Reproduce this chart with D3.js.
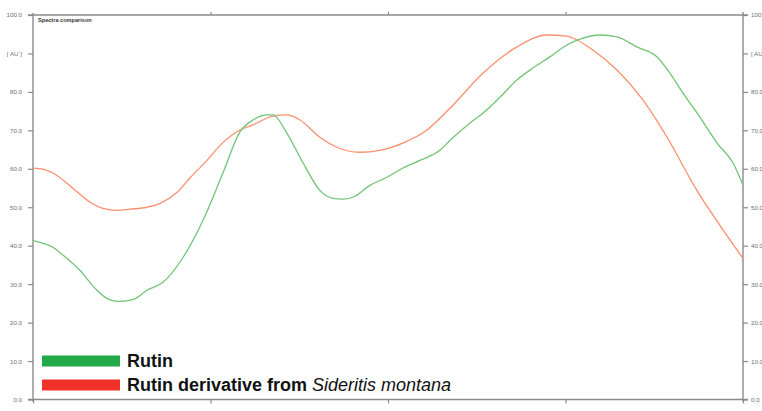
<!DOCTYPE html>
<html>
<head>
<meta charset="utf-8">
<script src="https://cdn.jsdelivr.net/npm/d3@7"></script>
<style>
  html, body { margin: 0; padding: 0; background: #fff; }
  svg { display: block; }
</style>
</head>
<body>
<svg id="chart" width="762" height="411"></svg>
<script>
// Wavelength grid (nm) and absorbance [AU] for each spectrum
const rutinWl = [200, 202.8, 205.6, 208.5, 213.2, 218.0, 220.8, 223.7, 228.2, 232.1, 236.6, 242.3, 247.9, 253.5, 258.3, 262.0, 265.9, 267.6, 271.5, 276.1, 280.8, 284.5, 287.3, 290.1, 294.9, 299.7, 304.2, 309.0, 314.6, 317.5, 323.1, 326.8, 331.5, 336.3, 340.8, 345.6, 350.4, 354.9, 359.7, 364.5, 370.1, 375.8, 379.4, 383.1, 387.9, 392.7, 397.2, 400];
const rutinAbs = [41.4, 40.6, 39.6, 37.5, 33.6, 28.4, 26.3, 25.5, 26.0, 28.4, 30.5, 37.0, 46.6, 58.9, 69.6, 72.7, 74.0, 74.0, 69.3, 61.5, 54.4, 52.3, 52.1, 52.6, 55.7, 57.8, 60.2, 62.2, 64.8, 67.4, 71.9, 74.5, 78.6, 83.1, 86.2, 89.1, 92.2, 94.0, 94.8, 94.3, 91.7, 89.1, 84.9, 79.7, 73.4, 66.7, 61.5, 55.7];

const derivWl = [200, 202.8, 205.6, 211.3, 216.1, 219.7, 223.7, 227.3, 232.1, 235.8, 240.6, 244.2, 249.0, 252.7, 258.3, 262.0, 267.6, 271.5, 275.2, 280.8, 285.6, 292.1, 297.7, 304.2, 311.0, 317.5, 326.8, 336.3, 344.8, 350.4, 353.2, 357.7, 364.5, 371.8, 378.6, 387.0, 393.5, 400];
const derivAbs = [60.2, 59.9, 58.9, 54.9, 51.3, 49.7, 49.2, 49.5, 50.0, 51.0, 53.9, 57.6, 62.2, 66.1, 70.1, 71.4, 73.7, 74.0, 72.7, 68.2, 65.6, 64.3, 64.8, 66.7, 70.1, 75.8, 84.9, 91.7, 94.8, 94.5, 93.5, 90.9, 85.7, 77.9, 68.2, 54.4, 45.3, 36.7];

// Axis ticks and labels
const yTicks = [0, 10, 20, 30, 40, 50, 60, 70, 80, 90, 100];
const yTickLabels = ["0.0", "10.0", "20.0", "30.0", "40.0", "50.0", "60.0", "70.0", "80.0", "[ AU ]", "100.0"];
const xTicks = [200, 250, 300, 350, 400];
const xTickLabels = ["200.0", "250.0", "300.0", "350.0", "400.0"];

const chartTitle = "Spectra comparison";
const seriesNames = ["Rutin", "Rutin derivative from "];
const speciesName = "Sideritis montana";

const svg = d3.select("#chart");
const plotL = 33, plotR = 743, plotT = 15, plotB = 399.5;

const x = d3.scaleLinear().domain([200, 400]).range([plotL, plotR]);
const y = d3.scaleLinear().domain([0, 100]).range([plotB, plotT]);

const axisColor = "#8a8a8a";
const labelColor = "#707070";

// Left axis
const gL = svg.append("g").attr("transform", `translate(${plotL},0)`)
  .call(d3.axisLeft(y).tickValues(yTicks).tickFormat((d, i) => yTickLabels[i]).tickSize(5).tickPadding(6));
// Right axis
const gR = svg.append("g").attr("transform", `translate(${plotR},0)`)
  .call(d3.axisRight(y).tickValues(yTicks).tickFormat((d, i) => yTickLabels[i]).tickSize(5).tickPadding(3));
// Bottom axis
const gB = svg.append("g").attr("transform", `translate(0,${plotB})`)
  .call(d3.axisBottom(x).tickValues(xTicks).tickFormat((d, i) => xTickLabels[i]).tickSize(4).tickPadding(8));
// Top frame with small inner ticks
const gT = svg.append("g").attr("transform", `translate(0,${plotT})`)
  .call(d3.axisTop(x).tickValues(xTicks.slice(1, -1)).tickFormat("").tickSize(3));

[gL, gR, gB, gT].forEach(g => {
  g.select(".domain").attr("stroke", axisColor).attr("stroke-width", 1.4);
  g.selectAll(".tick line").attr("stroke", axisColor).attr("stroke-width", 1.2);
  g.selectAll(".tick text").attr("fill", labelColor).attr("font-family", "Liberation Sans, Arial, sans-serif").attr("font-size", 6.2);
});
gL.select(".domain").attr("d", `M0,${plotT - 2}V${plotB + 2}`);
gR.select(".domain").attr("d", `M0,${plotT - 3}V${plotB + 2}`);
gB.select(".domain").attr("d", `M${plotL - 5},0H${plotR + 5}`);
gT.select(".domain").attr("d", `M${plotL - 5},0H${plotR + 5}`);

// Title
svg.append("text")
  .attr("x", plotL + 5).attr("y", plotT + 7)
  .attr("font-family", "Liberation Sans, Arial, sans-serif")
  .attr("font-size", 5.6).attr("font-weight", "bold").attr("fill", "#333")
  .text(chartTitle);

// Spectra
const line = d3.line().x(d => x(d[0])).y(d => y(d[1])).curve(d3.curveMonotoneX);
const rutin = rutinWl.map((w, i) => [w, rutinAbs[i]]);
const deriv = derivWl.map((w, i) => [w, derivAbs[i]]);

svg.append("path").datum(deriv).attr("d", line)
  .attr("fill", "none").attr("stroke", "#fb8f6e").attr("stroke-width", 1.3);
svg.append("path").datum(rutin).attr("d", line)
  .attr("fill", "none").attr("stroke", "#72c476").attr("stroke-width", 1.3);

// Legend
const legend = svg.append("g");
const legendItems = [
  { color: "#23a94a", y: 361 },
  { color: "#ef3127", y: 385 }
];
legend.selectAll("rect").data(legendItems).join("rect")
  .attr("x", 42).attr("y", d => d.y - 5.5).attr("width", 78).attr("height", 11)
  .attr("fill", d => d.color);

const t1 = legend.append("text")
  .attr("x", 127).attr("y", 367)
  .attr("font-family", "Liberation Sans, Arial, sans-serif")
  .attr("font-size", 18).attr("font-weight", "bold").attr("fill", "#111")
  .text(seriesNames[0]);
const t2 = legend.append("text")
  .attr("x", 127).attr("y", 391)
  .attr("font-family", "Liberation Sans, Arial, sans-serif")
  .attr("font-size", 18).attr("fill", "#111");
t2.append("tspan").attr("font-weight", "bold").text(seriesNames[1]);
t2.append("tspan").attr("font-style", "italic").text(speciesName);
</script>
</body>
</html>
